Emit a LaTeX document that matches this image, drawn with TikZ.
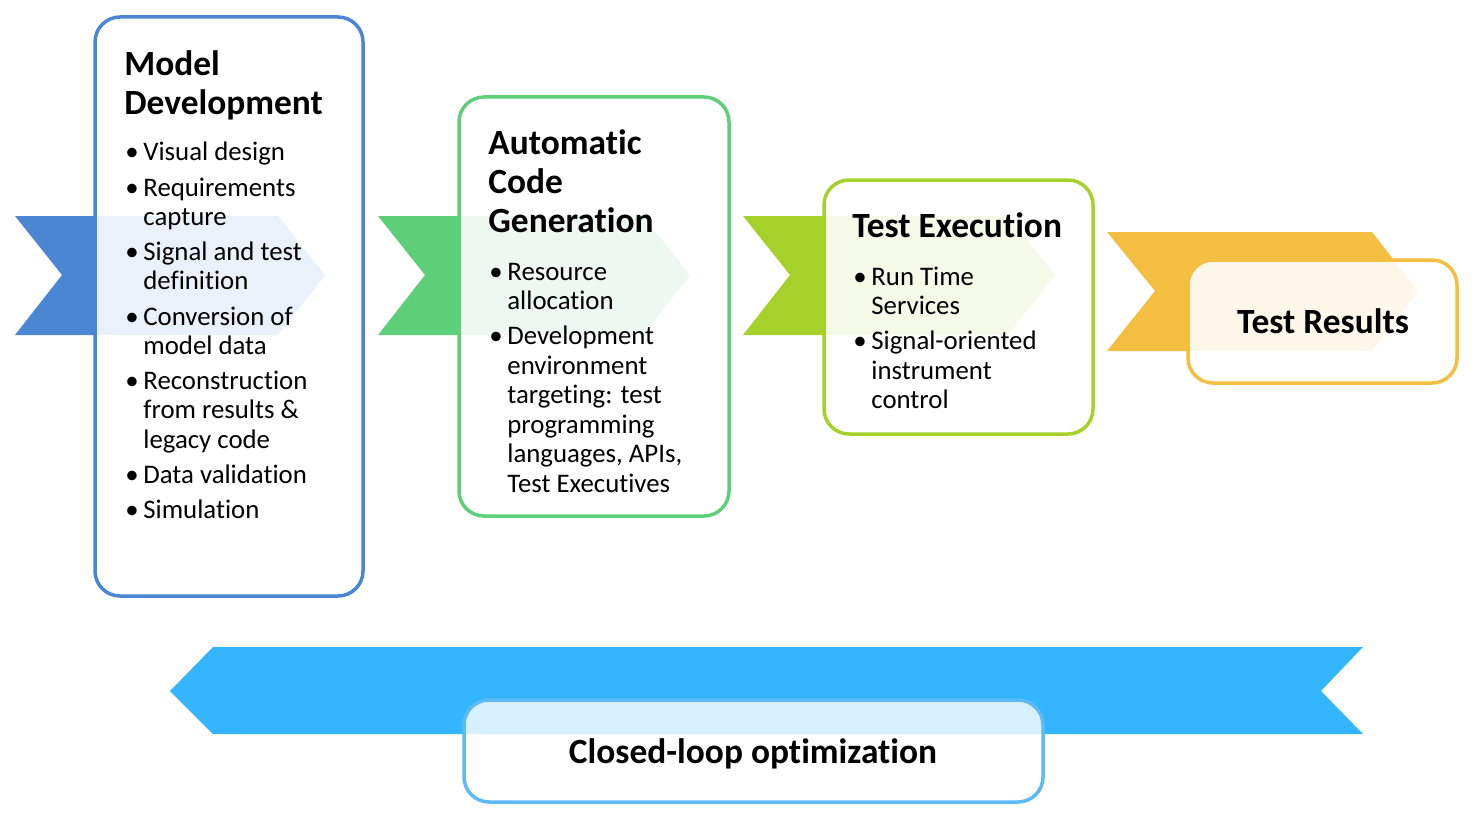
\documentclass[tikz,border=0pt]{standalone}
\usepackage{fontspec}
\setmainfont{Carlito}[Ligatures=NoCommon]
\definecolor{cblue}{HTML}{4A86D2}
\definecolor{cgreen}{HTML}{5DCF79}
\definecolor{clime}{HTML}{A5D12A}
\definecolor{corange}{HTML}{F4BE41}
\definecolor{csky}{HTML}{33B5FF}
\definecolor{cskyb}{HTML}{5DBAF5}
\newcommand\ttl[1]{\vtop{\hsize=220pt\parindent=0pt\parskip=0pt\fontsize{17.7}{19.5}\selectfont\bfseries #1}}
\newcommand\blist[1]{\vtop{\hsize=220pt\parindent=0pt\parskip=0pt\fontsize{13.4}{14.75}\selectfont #1}}
\newcommand\bi[1]{\hangindent=9pt\hangafter=1\noindent\makebox[9pt][l]{\textbullet}#1\par\vskip 2.75pt}
\tikzset{
  chev/.style={fill=#1, draw=none},
  panel/.style={draw=#1, line width=1.75pt, rounded corners=12.5pt, fill=white, fill opacity=0.89, draw opacity=1},
  lbl/.style={inner sep=0pt, anchor=base west, text=black},
  big/.style={inner sep=0pt, anchor=base, font=\fontsize{17.7}{19.5}\selectfont\bfseries},
}
\begin{document}
\begin{tikzpicture}[x=0.5pt, y=-0.5pt]
\useasboundingbox (0,0) rectangle (1472,813);
% chevrons
\fill[chev=cblue] (15,216) -- (278,216) -- (325,275) -- (278,335) -- (15,335) -- (62,275) -- cycle;
\fill[chev=cgreen] (378,216) -- (643,216) -- (690,275) -- (643,335) -- (378,335) -- (425,275) -- cycle;
\fill[chev=clime] (743,216) -- (1008,216) -- (1055,275) -- (1008,335) -- (743,335) -- (790,275) -- cycle;
\fill[chev=corange] (1107,232) -- (1372,232) -- (1418,291) -- (1372,351) -- (1107,351) -- (1155,291) -- cycle;
\fill[chev=csky] (170,691) -- (213,647) -- (1363,647) -- (1321,691) -- (1363,734) -- (213,734) -- cycle;
% panels
\draw[panel=cblue] (95,17) rectangle (363,596);
\draw[panel=cgreen] (459,97) rectangle (729,516);
\draw[panel=clime] (824,180) rectangle (1093,434);
\draw[panel=corange] (1188,260) rectangle (1457,383);
\draw[panel=cskyb, fill opacity=0.8] (464,700) rectangle (1043,802);
% texts
\node[lbl] (t1) at (124,76) {\ttl{Model\\Development}};
\node[lbl] (l1) at (125,161) {\blist{\bi{Visual design}\bi{Requirements\\capture}\bi{Signal and test\\definition}\bi{Conversion of\\model data}\bi{Reconstruction\\from results \&\\legacy code}\bi{Data validation}\bi{Simulation}}};
\node[lbl] (t2) at (488,155) {\ttl{Automatic\\Code\\Generation}};
\node[lbl] (l2) at (489,280) {\blist{\bi{Resource\\allocation}\bi{Development\\environment\\targeting: test\\programming\\languages, APIs,\\Test Executives}}};
\node[lbl] (t3) at (852,237) {\ttl{Test Execution}};
\node[lbl] (l3) at (853,285) {\blist{\bi{Run Time\\Services}\bi{Signal-oriented\\instrument\\control}}};
\node[big] (t4) at (1323,333) {Test Results};
\node[big] (t5) at (753,763) {Closed-loop optimization};
\end{tikzpicture}
\end{document}
